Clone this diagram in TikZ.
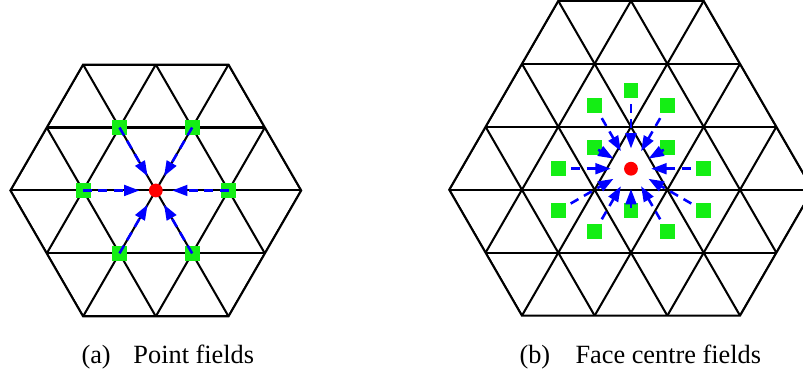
\documentclass[tikz,border=0pt]{standalone}
\usepackage{fontspec}
\setmainfont{Liberation Serif}
\usetikzlibrary{arrows.meta}

\definecolor{sqgreen}{RGB}{20,238,20}

\begin{document}
\begin{tikzpicture}[>={Triangle[length=6pt,width=4.2pt]},
  meshln/.style={line width=0.8pt},
  sq/.style={fill=sqgreen, minimum size=0.205cm, inner sep=0pt},
  cellpt/.style={circle, fill=red, minimum size=0.19cm, inner sep=0pt},
  flux/.style={->, blue, line width=1pt, dash pattern=on 3.5pt off 2.5pt},
  captxt/.style={anchor=base west, inner sep=0pt, font=\fontsize{10.3}{12}\selectfont}]
  \useasboundingbox (0,0) rectangle (11.045,5.199);

  % (a) point fields: regular hexagon, two triangles a side
  \begin{scope}[shift={(2.143,2.579)}]
    \begin{scope}
      \clip (0:2) -- (60:2) -- (120:2) -- (180:2) -- (240:2) -- (300:2) -- cycle;
      \foreach \k in {-2,...,2}
        \draw[meshln] (-3,\k*0.866) -- (3,\k*0.866);
      \foreach \i in {-4,...,4} {
        \draw[meshln] (\i-2,-3.464) -- (\i+2,3.464);
        \draw[meshln] (\i+2,-3.464) -- (\i-2,3.464);
      }
    \end{scope}
    \draw[meshln] (0:2) -- (60:2) -- (120:2) -- (180:2) -- (240:2) -- (300:2) -- cycle;
    \node[cellpt] (pa) at (0,0) {};
    % neighbouring points
    \foreach \a [count=\n] in {0,60,...,300}
      \node[sq] (na\n) at (\a:1) {};
    \foreach \n in {1,...,6}
      \draw[flux, shorten >=3.5pt] (na\n.center) -- (pa);
  \end{scope}

  % (b) face centre fields: centred on an upward triangle
  \begin{scope}[shift={(8.679,2.878)}]
    \begin{scope}[shift={(0,0.577)}]
      \begin{scope}
        \clip (-1,1.732) -- (1,1.732) -- (2.5,-0.866) -- (1.5,-2.598)
          -- (-1.5,-2.598) -- (-2.5,-0.866) -- cycle;
        \foreach \k in {-3,...,2}
          \draw[meshln] (-3,\k*0.866) -- (3,\k*0.866);
        \foreach \i in {-5,...,5} {
          \draw[meshln] (\i-2,-3.464) -- (\i+1.5,2.598);
          \draw[meshln] (\i+2,-3.464) -- (\i-1.5,2.598);
        }
      \end{scope}
      \draw[meshln] (-1,1.732) -- (1,1.732) -- (2.5,-0.866) -- (1.5,-2.598)
        -- (-1.5,-2.598) -- (-2.5,-0.866) -- cycle;
    \end{scope}
    \node[cellpt] (pb) at (0,0) {};
    % the 12 faces sharing a vertex with the centre face
    \foreach \x/\y [count=\n] in {0/1.07, -0.5/0.866, 0.5/0.866, -0.5/0.289,
        0.5/0.289, -1/0, 1/0, -1/-0.577, 1/-0.577, 0/-0.577, -0.5/-0.866, 0.5/-0.866}
      \node[sq] (nb\n) at (\x,\y) {};
    \foreach \n in {1,...,12}
      \draw[flux, shorten <=2pt, shorten >=5pt] (nb\n) -- (pb);
  \end{scope}

  % captions
  \node[captxt] (capa) at (1.114,0.193) {(a)};
  \node[captxt] (txta) at (1.829,0.193) {Point fields};
  \node[captxt] (capb) at (7.139,0.193) {(b)};
  \node[captxt] (txtb) at (7.909,0.193) {Face centre fields};
\end{tikzpicture}
\end{document}
